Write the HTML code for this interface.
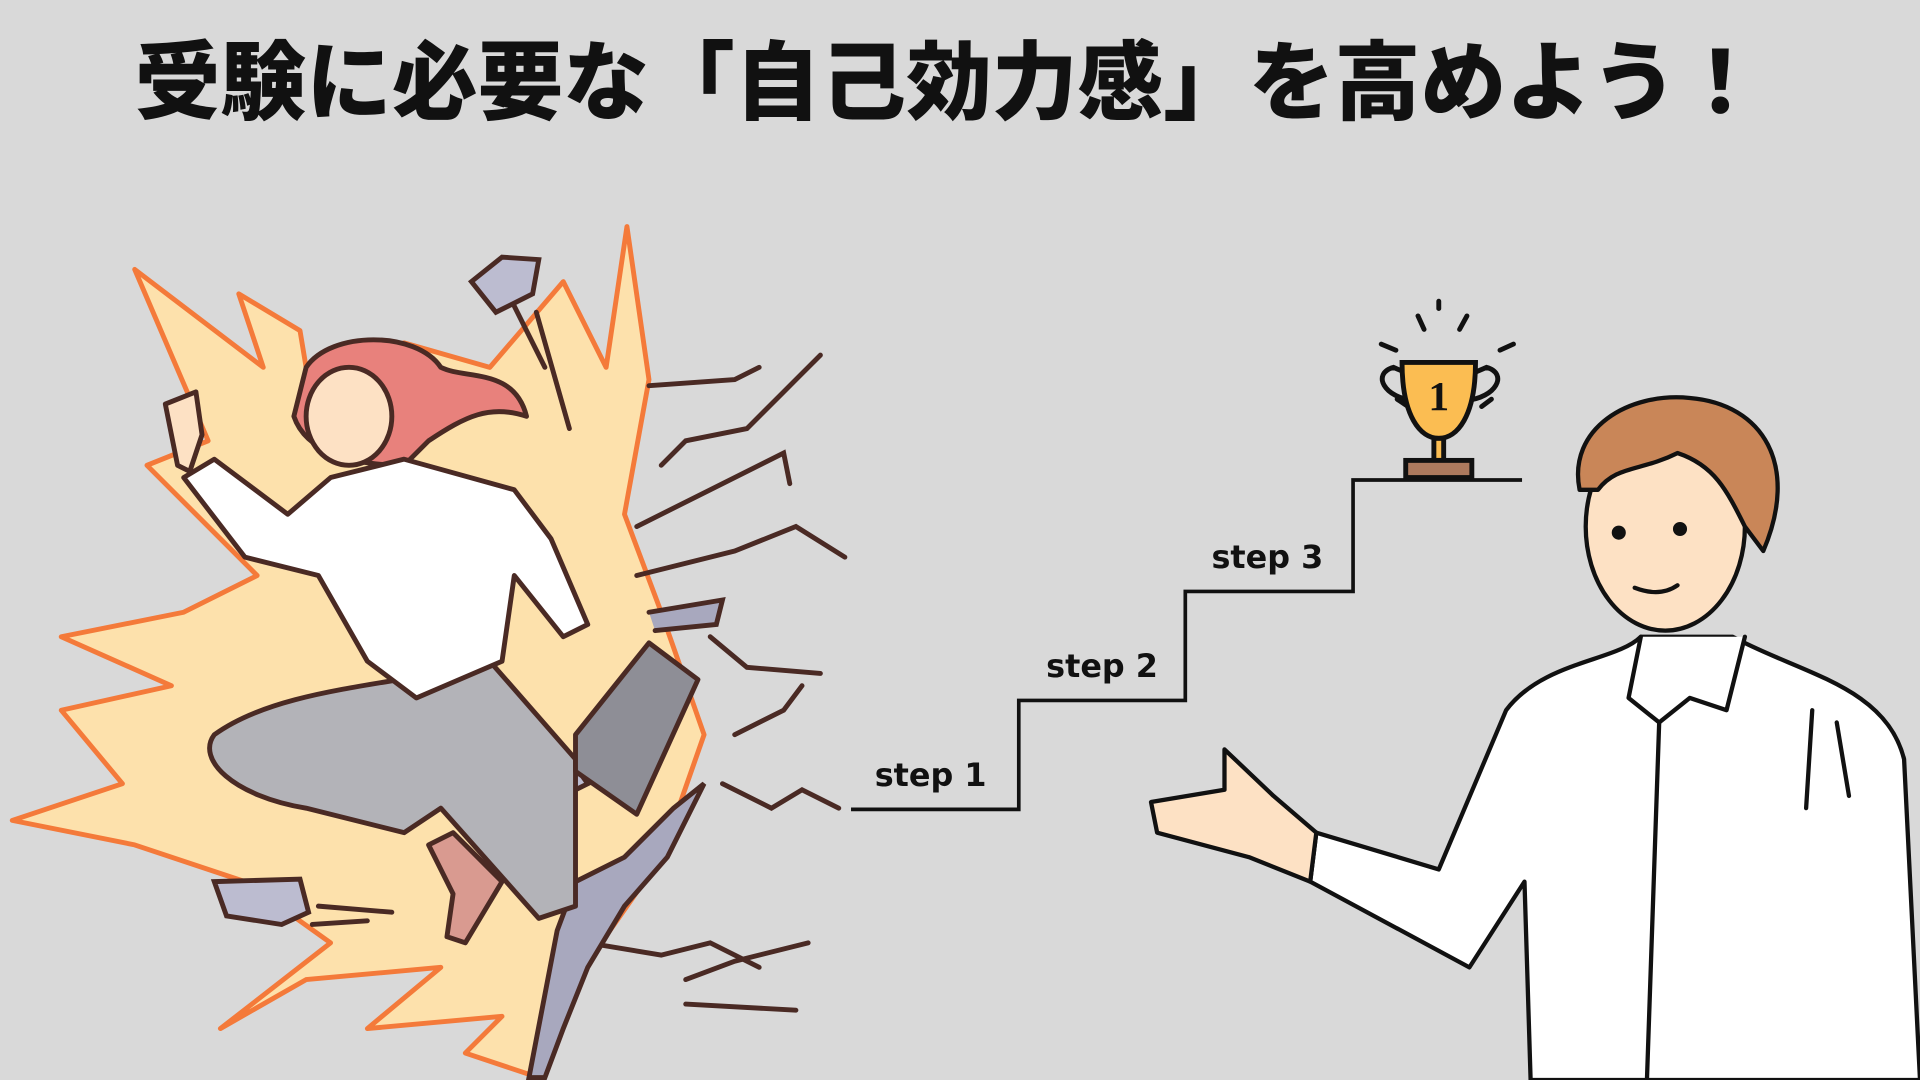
<!DOCTYPE html>
<html><head><meta charset="utf-8"><style>
html,body{margin:0;padding:0;background:#d9d9d9;}
svg{display:block}
</style></head><body>
<svg width="1920" height="1080" viewBox="0 0 1568 882" xmlns="http://www.w3.org/2000/svg">
<rect width="1568" height="882" fill="#d9d9d9"/>
<text x="775" y="92" text-anchor="middle" font-family="'Noto Sans CJK JP','WenQuanYi Zen Hei',sans-serif" font-weight="900" font-size="70" fill="#111">受験に必要な「自己効力感」を高めよう！</text>

<!-- burst -->
<path d="M110,220 L215,300 L195,240 L245,270 L250,300 L330,280 L400,300 L460,230 L495,300 L512,185 L530,310 L510,420 L540,500 L575,600 L540,700 L470,800 L440,880 L380,860 L410,830 L300,840 L360,790 L250,800 L180,840 L270,770 L200,720 L110,690 L10,670 L100,640 L50,580 L140,560 L50,520 L150,500 L210,470 L120,380 L170,360 Z" fill="#fde1ac" stroke="#f47a3a" stroke-width="4" stroke-linejoin="round"/>

<!-- cracks -->
<g fill="none" stroke="#4a2a24" stroke-width="4" stroke-linecap="round">
<path d="M530,315 L600,310 L620,300 M540,380 L560,360 L610,350 L640,320 L670,290 M520,430 L580,400 L640,370 L645,395 M520,470 L600,450 L650,430 L690,455 M580,520 L610,545 L670,550 M600,600 L640,580 L655,560 M590,640 L630,660 L655,645 L685,660 M480,770 L540,780 L580,770 L620,790 M560,800 L600,785 L660,770 M560,820 L650,825"/>
<path d="M530,500 L590,490 L585,510 L535,515" fill="#a8a8be"/>
<path d="M455,760 L470,720 L510,700 L550,660 L575,640 L545,700 L510,740 L480,790 L460,840 L445,880 L432,880 Z" fill="#a8a8be"/>
<path d="M385,230 L410,210 L440,212 L435,240 L405,255 Z" fill="#bcbcd0"/>
<path d="M175,720 L245,718 L252,745 L230,755 L185,748 Z" fill="#bcbcd0"/>
<path d="M432,625 L460,612 L480,640 L440,660 Z" fill="#bcbcd0"/>
<path d="M420,250 L445,300 M438,255 L465,350 M260,740 L320,745 M255,755 L300,752"/>
</g>

<!-- woman -->
<g stroke="#4a2a24" stroke-width="4" stroke-linejoin="round" stroke-linecap="round">
<path d="M250,300 C270,270 340,270 360,300 C380,310 420,300 430,340 C400,330 380,340 350,360 L330,380 C290,380 250,370 240,340 Z" fill="#e8817c"/>
<ellipse cx="285" cy="340" rx="35" ry="40" fill="#fde1c4"/>
<path d="M175,600 C230,560 330,560 400,540 L470,620 L470,740 L440,750 L360,660 L330,680 L250,660 C190,650 160,620 175,600 Z" fill="#b3b3b8"/>
<path d="M150,390 L175,375 L235,420 L270,390 L330,375 L420,400 L450,440 L480,510 L460,520 L420,470 L410,540 L340,570 L300,540 L260,470 L200,455 Z" fill="#ffffff"/>
<path d="M135,330 L160,320 L165,355 L155,385 L145,380 Z" fill="#fde1c4"/>
<path d="M470,600 L530,525 L570,555 L520,665 L470,630 Z" fill="#8e8e96"/>
<path d="M350,690 L370,680 L410,720 L380,770 L365,765 L370,730 Z" fill="#d99a90"/>
</g>

<!-- stairs -->
<polyline points="695,661 832,661 832,572 968,572 968,483 1105,483 1105,392 1243,392" fill="none" stroke="#111" stroke-width="3"/>
<g font-family="'Comic Sans MS','DejaVu Sans',sans-serif" font-size="26" font-weight="bold" fill="#111" text-anchor="middle">
<text x="760" y="642">step 1</text>
<text x="900" y="553">step 2</text>
<text x="1035" y="464">step 3</text>
</g>

<!-- trophy -->
<g stroke="#111" stroke-width="4" stroke-linecap="round" fill="none">
<path d="M1175,246 L1175,252 M1158,258 L1163,269 M1192,269 L1198,258 M1128,281 L1140,286 M1225,286 L1236,281"/>
<path d="M1155,327 C1130,325 1120,305 1138,300 L1152,306 M1200,306 L1214,300 C1232,305 1222,325 1197,327 M1141,326 L1150,332 M1210,332 L1218,326"/>
<path d="M1145,296 L1205,296 C1205,340 1190,358 1175,358 C1160,358 1145,340 1145,296 Z" fill="#fbbd52"/>
<rect x="1171" y="358" width="8" height="18" fill="#fbbd52"/>
<rect x="1148" y="376" width="54" height="14" fill="#ad7a5e"/>
</g>
<text x="1175" y="335" font-family="'Liberation Serif',serif" font-weight="bold" font-size="34" text-anchor="middle" fill="#111">1</text>

<!-- man -->
<g stroke="#111" stroke-width="3.5" stroke-linejoin="round" stroke-linecap="round">
<path d="M1230,580 C1260,540 1320,540 1340,520 L1415,520 C1470,550 1540,560 1555,620 L1568,882 L1250,882 L1245,720 L1200,790 L1070,720 L1075,680 L1175,710 Z" fill="#ffffff"/>
<ellipse cx="1360" cy="430" rx="65" ry="85" fill="#fde1c4"/>
<path d="M1290,400 C1280,350 1330,320 1380,325 C1440,330 1470,380 1440,450 L1425,430 C1410,400 1400,380 1370,370 C1340,385 1320,380 1305,400 Z" fill="#c98658"/>
<path d="M940,655 L1000,645 L1000,612 L1040,650 L1075,680 L1070,720 L1020,700 L945,680 Z" fill="#fde1c4"/>
<path d="M1340,520 L1330,570 L1355,590 L1380,570 L1410,580 L1425,520" fill="#fff"/>
<path d="M1355,590 L1345,882 M1480,580 L1475,660 M1500,590 L1510,650"/>
<circle cx="1322" cy="435" r="4" fill="#111"/><circle cx="1372" cy="432" r="4" fill="#111"/>
<path d="M1335,480 C1348,485 1360,485 1370,478" fill="none"/>
</g>
</svg>
</body></html>
